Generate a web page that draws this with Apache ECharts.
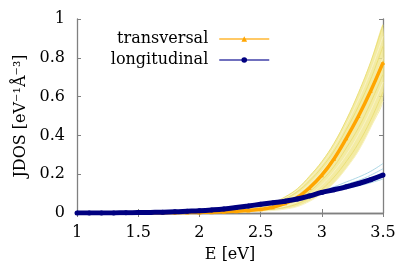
<!DOCTYPE html>
<html>
<head>
<meta charset="utf-8">
<script src="https://cdn.jsdelivr.net/npm/echarts@6/dist/echarts.min.js"></script>
<style>html,body{margin:0;padding:0;background:#fff}#c{width:415px;height:275px}</style>
</head>
<body>
<div id="c"></div>
<script>
// Main curves, E = 1.0 .. 3.5 step 0.1
const energies = [1.0,1.1,1.2,1.3,1.4,1.5,1.6,1.7,1.8,1.9,2.0,2.1,2.2,2.3,2.4,2.5,2.6,2.7,2.8,2.9,3.0,3.1,3.2,3.3,3.4,3.5];
const transversal = [0,0,0,0,0,0,0,0.0005,0.001,0.002,0.003,0.004,0.006,0.009,0.013,0.019,0.03,0.05,0.08,0.13,0.195,0.28,0.385,0.5,0.63,0.775];
const longitudinal = [0,0,0,0.0005,0.001,0.002,0.003,0.004,0.006,0.009,0.012,0.016,0.021,0.028,0.036,0.045,0.053,0.061,0.072,0.088,0.106,0.12,0.135,0.152,0.172,0.196];

// Ensemble curves, E = 2.0 .. 3.5 step 0.1
const energiesEns = [2.0,2.1,2.2,2.3,2.4,2.5,2.6,2.7,2.8,2.9,3.0,3.1,3.2,3.3,3.4,3.5];
const transEns1 = [0.004,0.006,0.009,0.013,0.02,0.032,0.052,0.083,0.125,0.19,0.265,0.36,0.48,0.62,0.78,0.97];
const transEns2 = [0.004,0.006,0.009,0.013,0.019,0.03,0.048,0.077,0.118,0.178,0.25,0.34,0.455,0.585,0.735,0.91];
const transEns3 = [0.004,0.005,0.008,0.012,0.018,0.028,0.045,0.072,0.11,0.165,0.235,0.32,0.43,0.55,0.69,0.86];
const transEns4 = [0.003,0.005,0.007,0.011,0.016,0.025,0.04,0.064,0.098,0.15,0.215,0.295,0.395,0.51,0.645,0.8];
const transEns5 = [0.002,0.004,0.005,0.008,0.011,0.017,0.027,0.044,0.07,0.11,0.168,0.24,0.335,0.44,0.57,0.715];
const transEns6 = [0.002,0.003,0.005,0.007,0.01,0.014,0.022,0.036,0.058,0.094,0.145,0.215,0.3,0.405,0.53,0.675];
const transEns7 = [0.002,0.003,0.004,0.006,0.008,0.012,0.018,0.029,0.047,0.078,0.122,0.185,0.265,0.36,0.48,0.625];
const transEns8 = [0.001,0.002,0.003,0.004,0.006,0.009,0.013,0.02,0.033,0.06,0.1,0.155,0.23,0.32,0.44,0.575];
const longEns1 = [0.012,0.016,0.021,0.028,0.036,0.045,0.053,0.062,0.074,0.092,0.113,0.135,0.16,0.185,0.215,0.255];
const longEns2 = [0.012,0.016,0.021,0.028,0.036,0.045,0.053,0.061,0.073,0.09,0.11,0.128,0.148,0.168,0.195,0.228];
const longEns3 = [0.012,0.016,0.021,0.028,0.036,0.045,0.053,0.061,0.072,0.088,0.106,0.122,0.139,0.158,0.18,0.205];
const longEns4 = [0.012,0.016,0.021,0.028,0.036,0.045,0.053,0.061,0.071,0.086,0.102,0.116,0.13,0.146,0.164,0.185];
const longEns5 = [0.011,0.015,0.02,0.027,0.035,0.044,0.052,0.06,0.07,0.085,0.1,0.113,0.126,0.14,0.156,0.175];

const xTicks = [1, 1.5, 2, 2.5, 3, 3.5];
const yTicks = [0, 0.2, 0.4, 0.6, 0.8, 1];

const FONT = 'DejaVu Serif';
const pairs = (xs, ys) => xs.map((x, i) => [x, ys[i]]);

const transEns = [transEns1,transEns2,transEns3,transEns4,transEns5,transEns6,transEns7,transEns8];
const longEns = [longEns1,longEns2,longEns3,longEns4,longEns5];

const series = [];
// band fill for the transversal ensemble (between the outermost curves)
series.push({
  type:'custom', name:'band', silent:true, z:1,
  data: energiesEns.map((e, i) => [e, transEns1[i], transEns8[i]]),
  encode:{x:0, y:[1,2]},
  renderItem:(params, api) => {
    if (params.dataIndex !== 0) return null;
    const up = energiesEns.map((e, i) => api.coord([e, transEns1[i]]));
    const lo = energiesEns.map((e, i) => api.coord([e, transEns8[i]])).reverse();
    return {type:'polygon', shape:{points: up.concat(lo), smooth:0.25},
      style:{fill:'#f0e68c', opacity:0.8}};
  }
});
transEns.forEach((arr, k) => series.push({type:'line', name:'t'+k, data:pairs(energiesEns, arr), smooth:0.4,
  symbol:'none', lineStyle:{color: k%2 ? '#f8f2c6' : '#ebdf78', width:1}, silent:true, z:2}));
series.push({type:'line', name:'transversal', data:pairs(energies, transversal), smooth:0.4,
  symbol:'triangle', symbolSize:4, showSymbol:true, itemStyle:{color:'#ffa500'},
  lineStyle:{color:'#ffa500', width:3.5}, z:3});
longEns.forEach((arr, k) => series.push({type:'line', name:'l'+k, data:pairs(energiesEns, arr), smooth:0.4,
  symbol:'none', lineStyle:{color:'#add8e6', width:1}, silent:true, z:4}));
series.push({type:'line', name:'longitudinal', data:pairs(energies, longitudinal), smooth:0.4,
  symbol:'circle', symbolSize:5, showSymbol:true, itemStyle:{color:'#000080'},
  lineStyle:{color:'#000080', width:5}, z:5});

const axisCommon = {
  axisLine:{show:true, lineStyle:{color:'#808080', width:1.3}},
  axisTick:{show:true, inside:true, length:4, lineStyle:{color:'#808080', width:1}},
  splitLine:{show:false}
};

const chart = echarts.init(document.getElementById('c'), null, {renderer:'canvas'});
chart.setOption({
  animation:false,
  backgroundColor:'#fff',
  grid:{left:77, right:32, top:19, bottom:62, containLabel:false},
  legend:{
    data:[
      {name:'transversal', lineStyle:{color:'#ffb733', width:1.5}, itemStyle:{color:'#ffa500'}},
      {name:'longitudinal', lineStyle:{color:'#4040a8', width:1.5}, itemStyle:{color:'#000080'}}
    ],
    orient:'vertical', align:'right', right:140, top:26, itemWidth:50, itemHeight:7, itemGap:5,
    textStyle:{fontFamily:FONT, fontSize:16, color:'#000', padding:[0,6,0,0]}
  },
  xAxis:[
    Object.assign({type:'value', min:1, max:3.5, interval:0.5, position:'bottom',
      name:'E [eV]', nameLocation:'middle', nameGap:34,
      nameTextStyle:{fontFamily:FONT, fontSize:16, color:'#000'},
      axisLabel:{fontFamily:FONT, fontSize:16, color:'#000', margin:12,
        formatter:(v)=> xTicks.includes(v) ? String(v) : ''}}, axisCommon),
    Object.assign({type:'value', min:1, max:3.5, interval:0.5, position:'top', axisLabel:{show:false}}, axisCommon)
  ],
  yAxis:[
    Object.assign({type:'value', min:0, max:1, interval:0.2, position:'left',
      name:'JDOS [eV⁻¹Å⁻³]', nameLocation:'middle', nameGap:46, nameRotate:90,
      nameTextStyle:{fontFamily:FONT, fontSize:16, color:'#000'},
      axisLabel:{fontFamily:FONT, fontSize:16, color:'#000', margin:12,
        formatter:(v)=> { const t = yTicks.find(y => Math.abs(y - v) < 1e-9); return t === undefined ? '' : String(t); }}}, axisCommon),
    Object.assign({type:'value', min:0, max:1, interval:0.2, position:'right', axisLabel:{show:false}}, axisCommon)
  ],
  series: series
});
</script>
</body>
</html>
